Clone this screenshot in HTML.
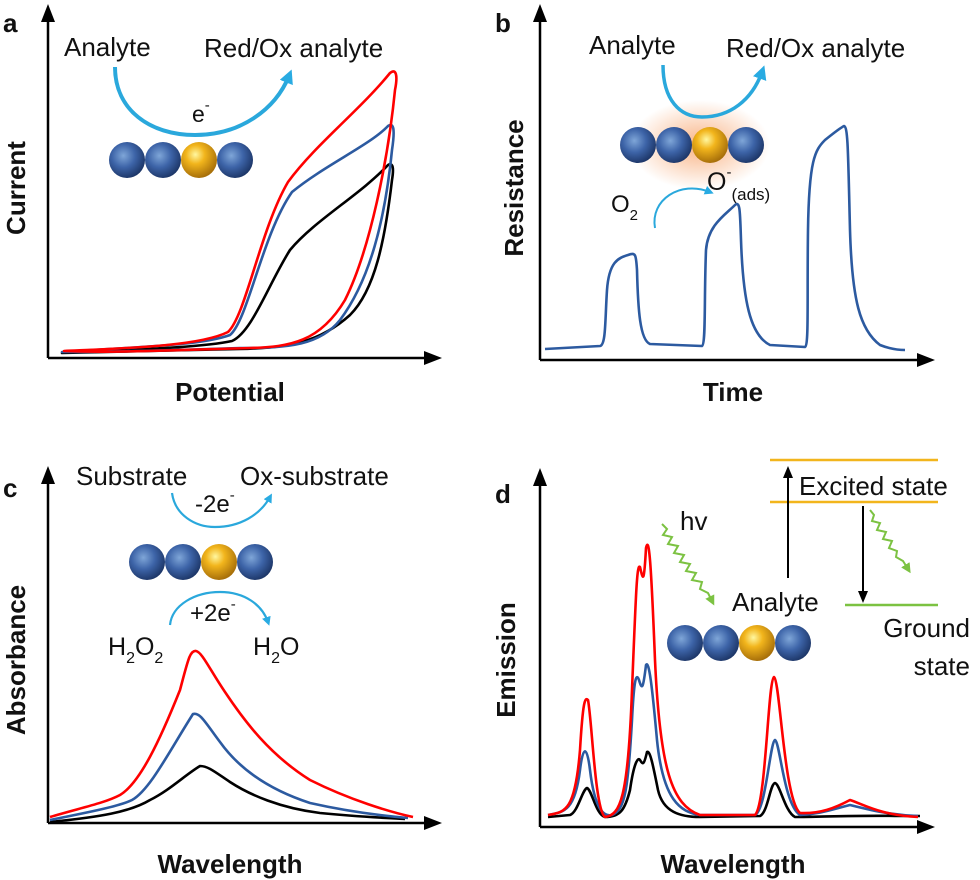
<!DOCTYPE html>
<html><head><meta charset="utf-8"><style>
html,body{margin:0;padding:0;background:#fff}
svg{display:block}
text{font-family:"Liberation Sans",Arial,sans-serif;fill:#111}
.b{font-weight:bold}
</style></head><body>
<svg width="980" height="880" viewBox="0 0 980 880" xmlns="http://www.w3.org/2000/svg">
<defs>
<radialGradient id="bl" cx="0.4" cy="0.38" r="0.65"><stop offset="0" stop-color="#7fa6d8"/><stop offset="0.5" stop-color="#3d64a8"/><stop offset="1" stop-color="#1c3566"/></radialGradient>
<radialGradient id="gd" cx="0.4" cy="0.35" r="0.65"><stop offset="0" stop-color="#fff7a0"/><stop offset="0.4" stop-color="#f2b51c"/><stop offset="1" stop-color="#a8700a"/></radialGradient>
<radialGradient id="gl"><stop offset="0" stop-color="#f7a066" stop-opacity="0.8"/><stop offset="1" stop-color="#f7a066" stop-opacity="0"/></radialGradient>
<marker id="bh" markerWidth="14" markerHeight="14" refX="7" refY="7" orient="auto" markerUnits="userSpaceOnUse"><path d="M0,0 L14,7 L0,14 z" fill="#29abe2"/></marker>
<marker id="sh" markerWidth="9" markerHeight="9" refX="5" refY="4.5" orient="auto" markerUnits="userSpaceOnUse"><path d="M0,0 L9,4.5 L0,9 z" fill="#29abe2"/></marker>
<marker id="gh" markerWidth="10" markerHeight="10" refX="5" refY="5" orient="auto" markerUnits="userSpaceOnUse"><path d="M0,0 L10,5 L0,10 z" fill="#7cc242"/></marker>
<g id="sph">
<circle cx="0" cy="0" r="18" fill="url(#bl)"/><circle cx="36" cy="0" r="18" fill="url(#bl)"/><circle cx="72" cy="0" r="18" fill="url(#gd)"/><circle cx="108" cy="0" r="18" fill="url(#bl)"/>
</g>
</defs>

<!-- Panel a -->
<g stroke="#000" stroke-width="2.5" fill="none">
<line x1="48" y1="358" x2="48" y2="18"/><line x1="48" y1="358" x2="428" y2="358"/>
</g>
<path d="M48,4 L41,22 L55,22 z"/><path d="M442,358 L424,351 L424,365 z"/>
<text x="3" y="32" class="b" font-size="26">a</text>
<text x="64" y="56" font-size="26">Analyte</text>
<text x="204" y="57" font-size="26">Red/Ox analyte</text>
<path d="M115,67 C115,110 150,135 195,135 C240,135 275,110 289,76" fill="none" stroke="#2aa8dc" stroke-width="4" marker-end="url(#bh)"/>
<text x="192" y="122" font-size="23">e<tspan dy="-12" font-size="15">-</tspan></text>
<use href="#sph" x="127" y="160"/>
<text transform="translate(25,188) rotate(-90)" text-anchor="middle" class="b" font-size="26">Current</text>
<text x="230" y="401" text-anchor="middle" class="b" font-size="26">Potential</text>
<g fill="none" stroke-width="2.6" stroke-linejoin="round">
<path stroke="#000" d="M62,353 C120,350 200,348 232,341 C252,332 268,285 290,250 C315,220 360,195 388,165 C393,162 394,168 392,180 C385,240 375,290 350,315 C320,342 290,348 240,349 C180,350 110,352 62,353 z"/>
<path stroke="#2c5aa0" d="M62,352 C130,347 200,346 230,335 C248,320 262,235 292,192 C325,165 370,145 388,126 C394,122 395,130 392,150 C385,220 370,280 340,320 C320,345 290,348 240,348 C180,350 110,352 62,352 z"/>
<path stroke="#f00" d="M64,351 C130,348 200,346 228,332 C246,315 260,230 288,182 C315,145 360,110 390,73 C396,68 398,75 395,90 C388,160 370,250 345,300 C320,342 290,347 250,348 C180,350 110,353 64,351 z"/>
</g>

<!-- Panel b -->
<g stroke="#000" stroke-width="2.5" fill="none">
<line x1="540" y1="360" x2="540" y2="18"/><line x1="540" y1="360" x2="922" y2="360"/>
</g>
<path d="M540,4 L533,22 L547,22 z"/><path d="M935,360 L917,353 L917,367 z"/>
<text x="495" y="32" class="b" font-size="26">b</text>
<text x="589" y="54" font-size="26">Analyte</text>
<text x="726" y="57" font-size="26">Red/Ox analyte</text>
<ellipse cx="700" cy="145" rx="70" ry="45" fill="url(#gl)"/>
<path d="M663,65 C663,100 680,117 702,117 C730,117 752,100 762,72" fill="none" stroke="#2aa8dc" stroke-width="3.5" marker-end="url(#bh)"/>
<use href="#sph" x="638" y="145"/>
<text x="707" y="190" font-size="25">O<tspan dy="-13" font-size="15">-</tspan><tspan dy="23" font-size="17">(ads)</tspan></text>
<text x="611" y="212" font-size="24">O<tspan dy="8" font-size="15">2</tspan></text>
<path d="M655,228 C650,200 680,180 710,192" fill="none" stroke="#2aa8dc" stroke-width="2" marker-end="url(#sh)"/>
<text transform="translate(523,188) rotate(-90)" text-anchor="middle" class="b" font-size="26">Resistance</text>
<text x="733" y="401" text-anchor="middle" class="b" font-size="26">Time</text>
<path fill="none" stroke="#2c5aa0" stroke-width="2.6" stroke-linejoin="round" d="M545,349 L600,346 C606,345 605,320 607,290 C609,262 618,258 628,255 C636,252 636,255 637,270 C638,310 640,340 650,344 L702,346 C706,344 704,300 706,250 C708,225 725,215 735,205 C740,201 740,210 741,240 C743,300 750,335 770,345 L805,347 C809,345 807,300 808,230 C809,160 815,150 825,140 C835,132 840,128 844,126 C848,127 848,150 850,230 C852,300 860,330 880,345 C890,349 900,350 905,350"/>

<!-- Panel c -->
<g stroke="#000" stroke-width="2.5" fill="none">
<line x1="48" y1="823" x2="48" y2="480"/><line x1="48" y1="823" x2="428" y2="823"/>
</g>
<path d="M48,466 L41,484 L55,484 z"/><path d="M442,823 L424,816 L424,830 z"/>
<text x="3" y="497" class="b" font-size="26">c</text>
<text x="76" y="485" font-size="26">Substrate</text>
<text x="240" y="485" font-size="26">Ox-substrate</text>
<path d="M172,493 C175,515 195,527 215,527 C240,527 260,515 270,497" fill="none" stroke="#2aa8dc" stroke-width="2.2" marker-end="url(#sh)"/>
<text x="195" y="512" font-size="24">-2e<tspan dy="-12" font-size="15">-</tspan></text>
<use href="#sph" x="147" y="562"/>
<path d="M170,625 C172,605 195,592 220,592 C245,592 262,605 268,622" fill="none" stroke="#2aa8dc" stroke-width="2.2" marker-end="url(#sh)"/>
<text x="190" y="621" font-size="24">+2e<tspan dy="-12" font-size="15">-</tspan></text>
<text x="108" y="655" font-size="25">H<tspan dy="8" font-size="16">2</tspan><tspan dy="-8">O</tspan><tspan dy="8" font-size="16">2</tspan></text>
<text x="253" y="655" font-size="25">H<tspan dy="8" font-size="16">2</tspan><tspan dy="-8">O</tspan></text>
<text transform="translate(25,660) rotate(-90)" text-anchor="middle" class="b" font-size="26">Absorbance</text>
<text x="230" y="873" text-anchor="middle" class="b" font-size="26">Wavelength</text>
<g fill="none" stroke-width="2.6" stroke-linejoin="round">
<path stroke="#000" d="M50,822 C100,817 130,812 150,800 C170,790 185,775 200,766 C208,766 215,772 230,782 C250,795 280,808 320,813 C360,817 390,818 405,819"/>
<path stroke="#2c5aa0" d="M50,820 C90,812 120,806 132,800 C150,790 170,750 193,714 C200,712 205,722 220,742 C240,770 270,790 310,803 C350,812 385,816 408,818"/>
<path stroke="#f00" d="M50,817 C80,808 105,803 120,795 C140,783 160,740 180,690 C188,660 190,650 196,651 C202,652 210,670 225,692 C245,722 270,755 310,780 C350,800 390,812 413,817"/>
</g>

<!-- Panel d -->
<g stroke="#000" stroke-width="2.5" fill="none">
<line x1="540" y1="827" x2="540" y2="482"/><line x1="540" y1="827" x2="922" y2="827"/>
</g>
<path d="M540,468 L533,486 L547,486 z"/><path d="M935,827 L917,820 L917,834 z"/>
<text x="495" y="503" class="b" font-size="26">d</text>
<line x1="770" y1="460" x2="938" y2="460" stroke="#f2b51c" stroke-width="2.5"/>
<line x1="770" y1="502" x2="938" y2="502" stroke="#f2b51c" stroke-width="2.5"/>
<line x1="845" y1="605" x2="938" y2="605" stroke="#7cc242" stroke-width="2.5"/>
<line x1="788" y1="578" x2="788" y2="474" stroke="#000" stroke-width="2"/><path d="M788,466 L783,478 L793,478 z"/>
<line x1="863" y1="506" x2="863" y2="592" stroke="#000" stroke-width="2"/><path d="M863,603 L858,591 L868,591 z"/>
<text x="799" y="495" font-size="26">Excited state</text>
<text x="970" y="637" text-anchor="end" font-size="26">Ground</text>
<text x="970" y="675" text-anchor="end" font-size="26">state</text>
<text x="680" y="530" font-size="26">hv</text>
<text x="732" y="611" font-size="26">Analyte</text>
<path d="M662,524 l5,5 l-4,6 l9,2 l-4,7 l10,2 l-4,7 l10,2 l-4,7 l10,2 l-4,7 l10,2 l-4,7 l10,2 l-2,7 l8,4 l4,8" fill="none" stroke="#7cc242" stroke-width="2" marker-end="url(#gh)"/>
<path d="M870,510 l4,5 l-2,6 l8,2 l-3,7 l9,2 l-3,7 l9,2 l-3,7 l8,3 l-1,6 l7,4 l5,8" fill="none" stroke="#7cc242" stroke-width="2" marker-end="url(#gh)"/>
<use href="#sph" x="685" y="643"/>
<text transform="translate(515,660) rotate(-90)" text-anchor="middle" class="b" font-size="26">Emission</text>
<text x="733" y="873" text-anchor="middle" class="b" font-size="26">Wavelength</text>
<g fill="none" stroke-width="2.6" stroke-linejoin="round">
<path stroke="#000" d="M548,817 L570,815 C578,812 582,790 587,788 C592,790 596,815 605,817 C620,817 625,810 630,790 C634,762 638,757 640,760 C643,765 644,765 647,752 C650,750 653,765 658,790 C663,812 680,817 700,817 L760,816 C768,812 770,784 775,783 C780,784 785,812 795,817 C820,817 860,815 900,816 L920,816"/>
<path stroke="#2c5aa0" d="M548,815 C565,812 575,810 580,770 C583,745 587,745 590,770 C595,812 605,817 612,815 C625,810 628,790 632,720 C634,680 636,672 639,680 C642,690 643,690 646,665 C649,660 652,685 657,740 C663,800 680,812 700,815 L755,815 C766,810 770,742 775,740 C780,742 784,805 800,815 C820,814 830,810 850,805 C870,810 890,815 918,816"/>
<path stroke="#f00" d="M548,815 C565,812 575,812 580,750 C583,700 585,697 588,700 C592,720 595,810 605,817 C620,815 628,800 632,690 C636,590 637,563 640,567 C643,580 644,585 646,548 C649,535 651,560 655,660 C660,770 672,805 700,815 L755,815 C766,805 768,680 774,677 C780,680 784,800 800,813 C820,814 835,808 850,800 C865,805 880,815 918,817"/>
</g>
</svg>
</body></html>
